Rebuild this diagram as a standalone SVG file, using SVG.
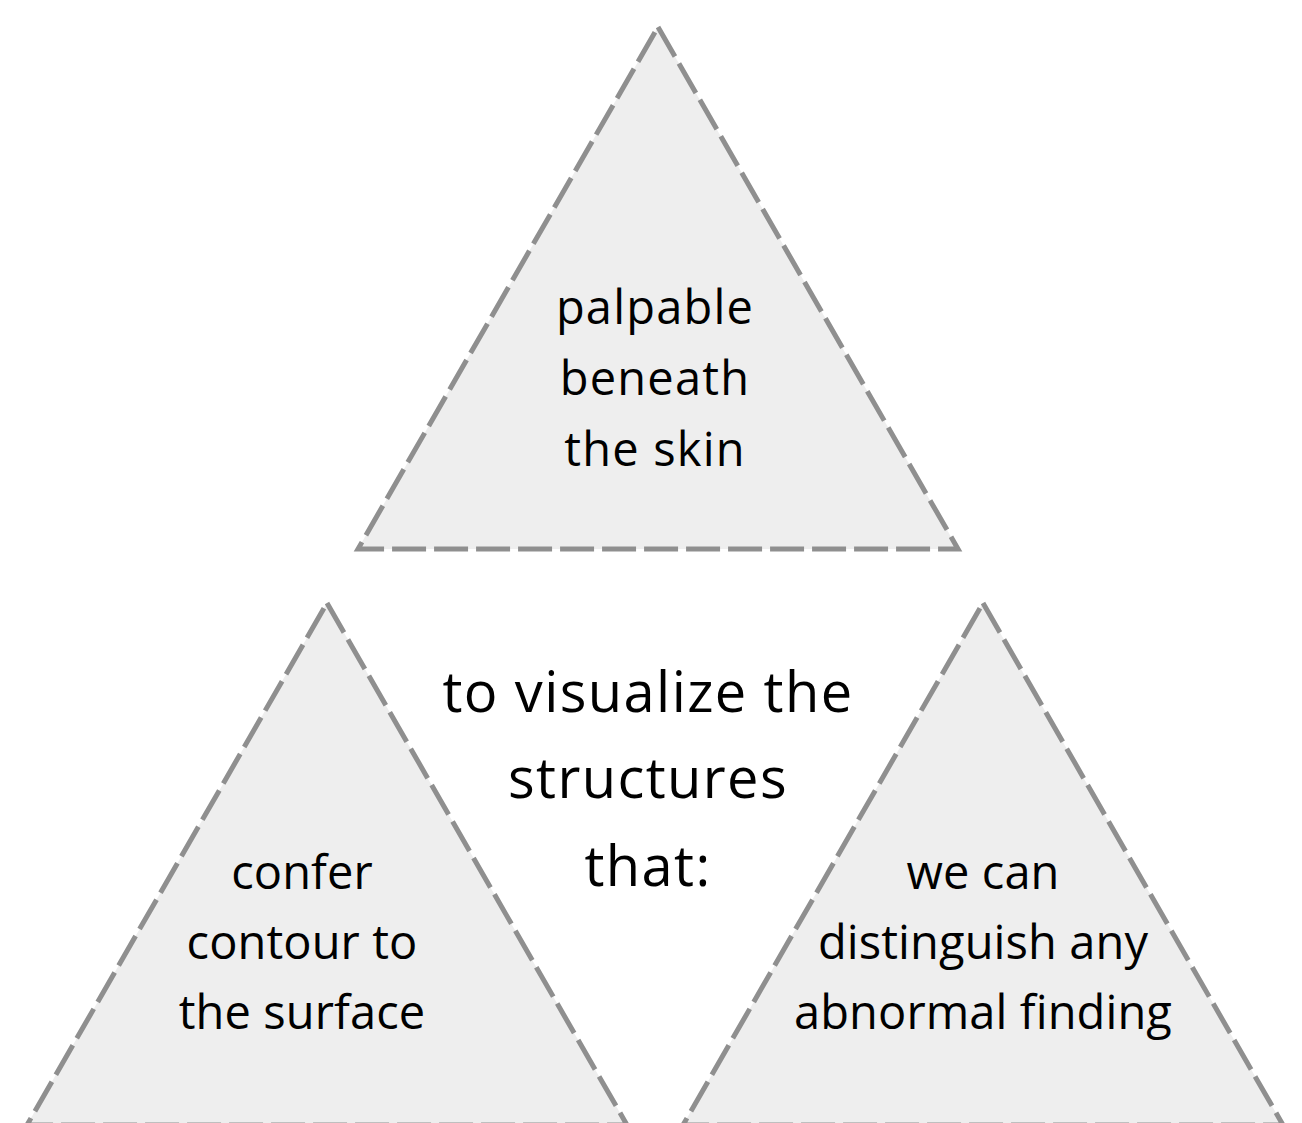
<svg xmlns="http://www.w3.org/2000/svg" width="1302" height="1123" viewBox="0 0 1302 1123">
<style>
.tri{fill:#eeeeee;stroke:#8f8f8f;stroke-width:5;stroke-dasharray:34 8;stroke-linejoin:miter}
.t{font-family:"Open Sans","Liberation Sans",sans-serif;fill:#000;text-anchor:middle;font-size:47px;font-weight:500;letter-spacing:0.1px;font-variant-ligatures:none}
.tp{letter-spacing:1.2px}
.c{font-size:56px;letter-spacing:1.4px}
</style>
<rect width="1302" height="1123" fill="#ffffff"/>
<g id="node-top">
<polygon class="tri" points="658,27 958,549 358,549"/>
<text class="t tp" x="655" y="324">palpable</text>
<text class="t tp" x="655" y="395">beneath</text>
<text class="t tp" x="655" y="466">the skin</text>
</g>
<g id="node-left">
<polygon class="tri" points="327,603 627,1125 27,1125"/>
<text class="t" x="302" y="889">confer</text>
<text class="t" x="302" y="959">contour to</text>
<text class="t" x="302" y="1029">the surface</text>
</g>
<g id="node-right">
<polygon class="tri" points="983,603 1283,1125 683,1125"/>
<text class="t" x="983" y="889">we can</text>
<text class="t" x="983" y="959">distinguish any</text>
<text class="t" x="983" y="1029">abnormal finding</text>
</g>
<g id="node-center">
<text class="t c" x="648" y="712">to visualize the</text>
<text class="t c" x="648" y="798">structures</text>
<text class="t c" x="648" y="886">that:</text>
</g>
<g id="connectors"></g>
</svg>
